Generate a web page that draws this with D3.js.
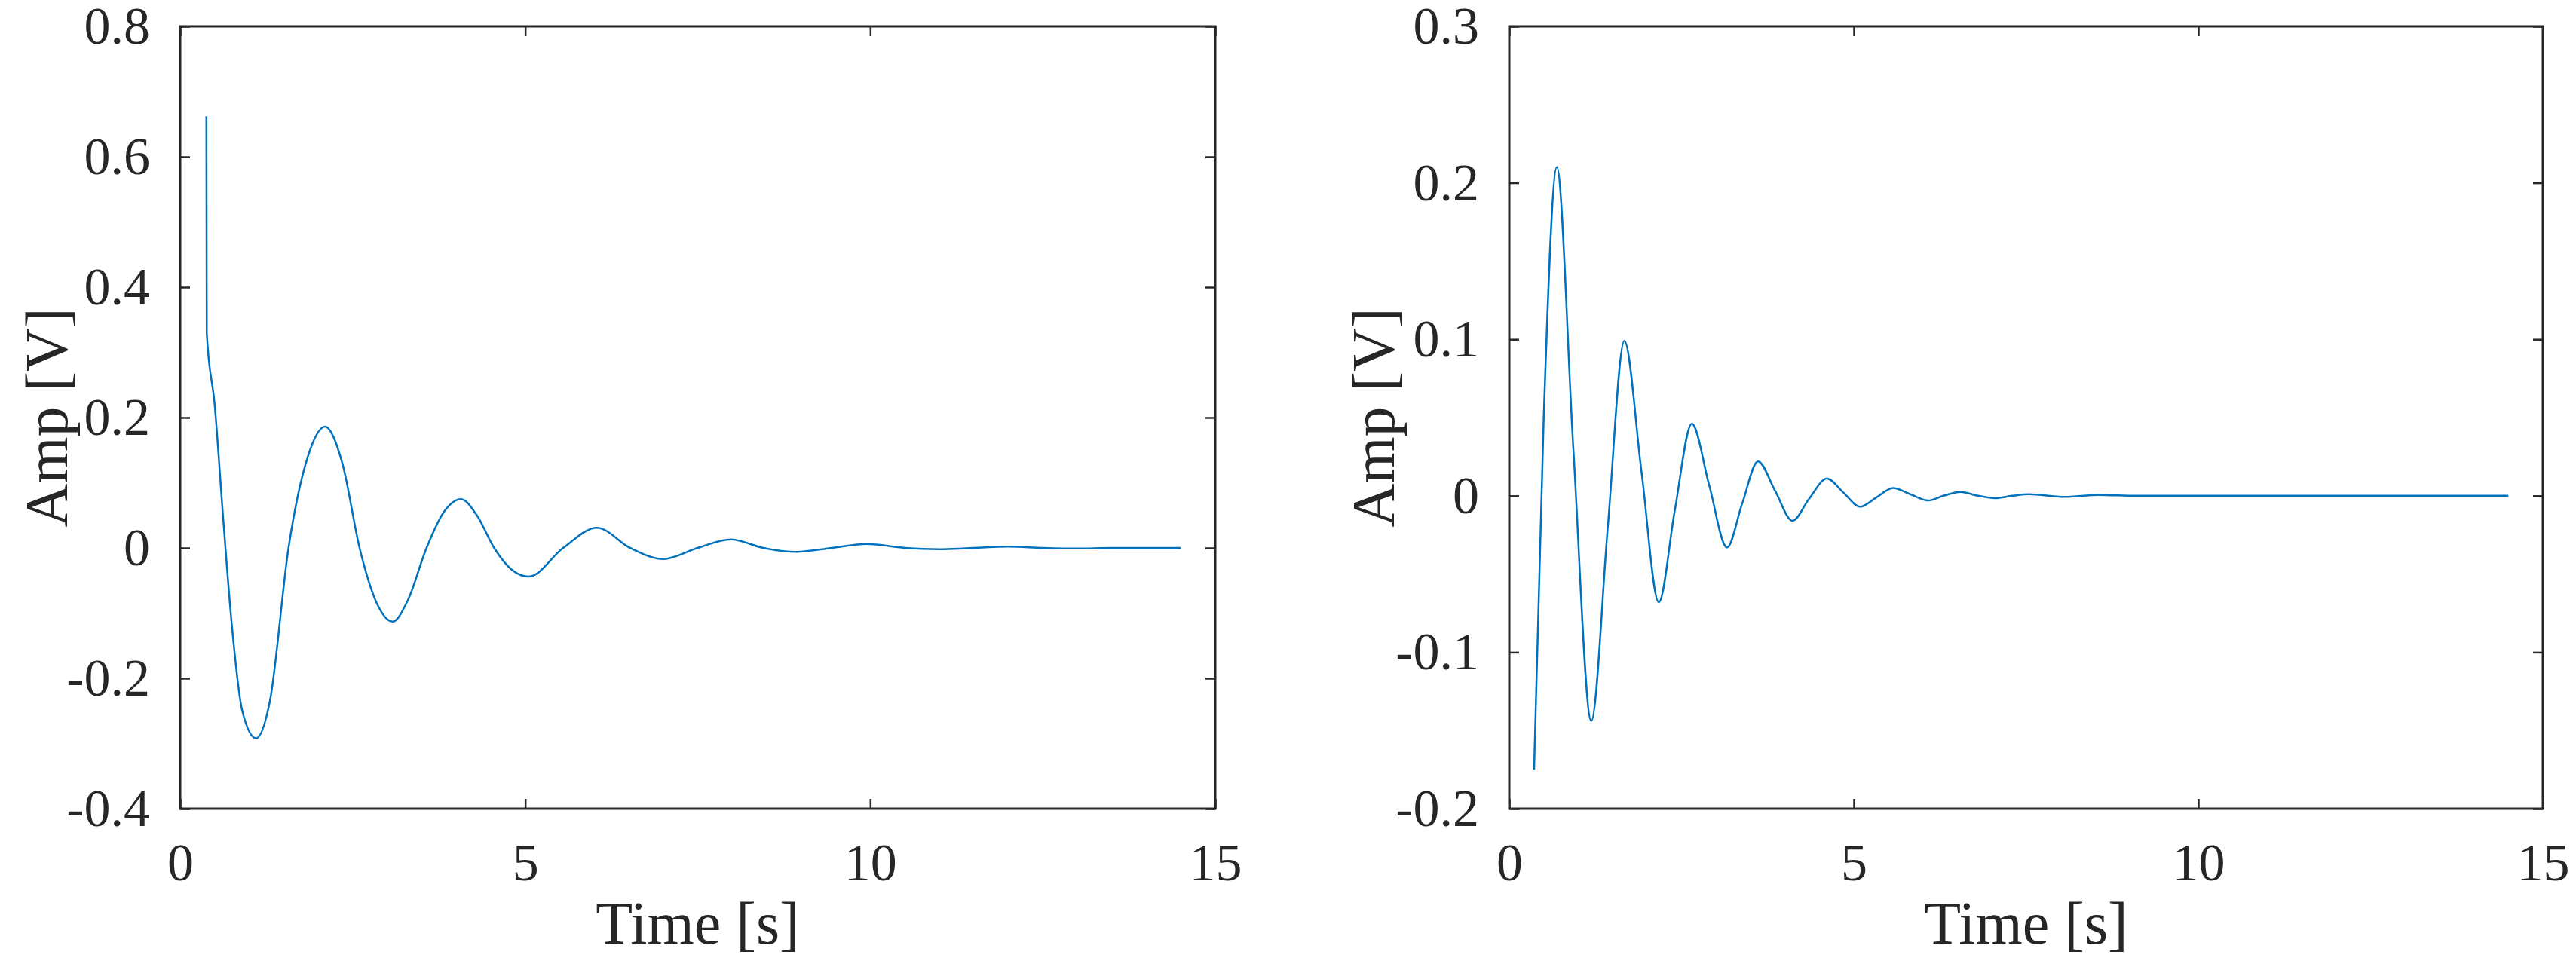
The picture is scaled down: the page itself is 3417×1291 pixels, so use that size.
<!DOCTYPE html>
<html><head><meta charset="utf-8">
<script src="https://cdn.jsdelivr.net/npm/d3@7"></script>
<style>body{margin:0;background:#fff}svg{display:block}</style>
</head><body>
<svg id="c" width="3417" height="1291"></svg>
<script>
const xTicks = [0, 5, 10, 15];
const leftYTicks = [-0.4, -0.2, 0, 0.2, 0.4, 0.6, 0.8];
const rightYTicks = [-0.2, -0.1, 0, 0.1, 0.2, 0.3];
const xLabel = "Time [s]";
const yLabel = "Amp [V]";
const leftT = [0.38,0.385,0.5,0.62,0.75,0.9,1.1,1.3,1.57,1.85,2.1,2.35,2.6,2.85,3.08,3.3,3.57,3.82,4.07,4.3,4.55,4.8,5.05,5.55,6.04,6.52,7.0,7.5,7.98,8.45,8.93,9.45,9.95,10.5,11.0,11.5,12.0,12.5,13.0,13.5,14.5];
const leftV = [0.662,0.33,0.22,0.05,-0.12,-0.25,-0.292,-0.235,0,0.14,0.186,0.13,0,-0.085,-0.113,-0.08,0,0.055,0.075,0.05,0,-0.033,-0.044,0,0.031,0,-0.017,0,0.013,0,-0.006,0,0.006,0,-0.002,0,0.002,0,-0.001,0,0];
const rightT = [0.36,0.5,0.69,0.93,1.19,1.43,1.67,1.92,2.17,2.4,2.65,2.9,3.16,3.38,3.61,3.86,4.11,4.35,4.61,4.85,5.09,5.33,5.57,5.82,6.08,6.3,6.55,6.8,7.05,7.3,7.54,8.05,8.55,9.1,10,14.5];
const rightV = [-0.175,0.05,0.21,0.03,-0.144,-0.02,0.099,0.015,-0.068,-0.01,0.046,0.007,-0.033,-0.005,0.022,0.003,-0.016,-0.002,0.011,0.002,-0.007,-0.001,0.005,0.001,-0.003,0,0.0024,0,-0.0015,0,0.001,-0.0007,0.0005,0,0,0];

const svg = d3.select("#c");
const fontFam = "'Liberation Serif','Times New Roman',serif";
const yTop = 35, yBot = 1073;
function panel(x0, x1, yDom, yTicks, T, V, ylabX) {
  const x = d3.scaleLinear().domain([0, 15]).range([x0, x1]);
  const y = d3.scaleLinear().domain(yDom).range([yBot, yTop]);
  const g = svg.append("g");
  const fmt = d => d === 0 ? "0" : d3.format(".1f")(d).replace("−", "-");
  const styleAxis = (sel, showText) => {
    sel.select(".domain").remove();
    sel.selectAll(".tick line").attr("stroke", "#262626").attr("stroke-width", 2.5);
    sel.selectAll(".tick text").attr("font-family", fontFam).attr("font-size", 70).attr("fill", "#262626");
    if (!showText) sel.selectAll(".tick text").remove();
  };
  g.append("g").attr("transform", `translate(0,${yBot})`)
    .call(d3.axisBottom(x).tickValues(xTicks).tickSize(-13).tickPadding(45).tickFormat(d3.format("d")))
    .call(s => styleAxis(s, true));
  g.append("g").attr("transform", `translate(0,${yTop})`)
    .call(d3.axisTop(x).tickValues(xTicks).tickSize(-13)).call(s => styleAxis(s, false));
  g.append("g").attr("transform", `translate(${x0},0)`)
    .call(d3.axisLeft(y).tickValues(yTicks).tickSize(-13).tickPadding(40).tickFormat(fmt))
    .call(s => styleAxis(s, true));
  g.append("g").attr("transform", `translate(${x1},0)`)
    .call(d3.axisRight(y).tickValues(yTicks).tickSize(-13)).call(s => styleAxis(s, false));
  g.append("rect").attr("x", x0).attr("y", yTop).attr("width", x1 - x0).attr("height", yBot - yTop)
    .attr("fill", "none").attr("stroke", "#262626").attr("stroke-width", 3);
  const pts = T.map((t, i) => [t, V[i]]);
  g.append("path").datum(pts)
    .attr("d", d3.line().x(d => x(d[0])).y(d => y(d[1])).curve(d3.curveMonotoneX))
    .attr("fill", "none").attr("stroke", "#0072BD").attr("stroke-width", 2.5);
  g.append("text").attr("x", (x0 + x1) / 2).attr("y", 1252).attr("text-anchor", "middle")
    .attr("font-family", fontFam).attr("font-size", 80).attr("fill", "#262626").text(xLabel);
  g.append("text").attr("transform", `translate(${ylabX},${(yTop + yBot) / 2}) rotate(-90)`)
    .attr("text-anchor", "middle").attr("dominant-baseline", "central")
    .attr("font-family", fontFam).attr("font-size", 80).attr("fill", "#262626").text(yLabel);
}
panel(239, 1612, [-0.4, 0.8], leftYTicks, leftT, leftV, 62);
panel(2002, 3373, [-0.2, 0.3], rightYTicks, rightT, rightV, 1822);
</script>
</body></html>
